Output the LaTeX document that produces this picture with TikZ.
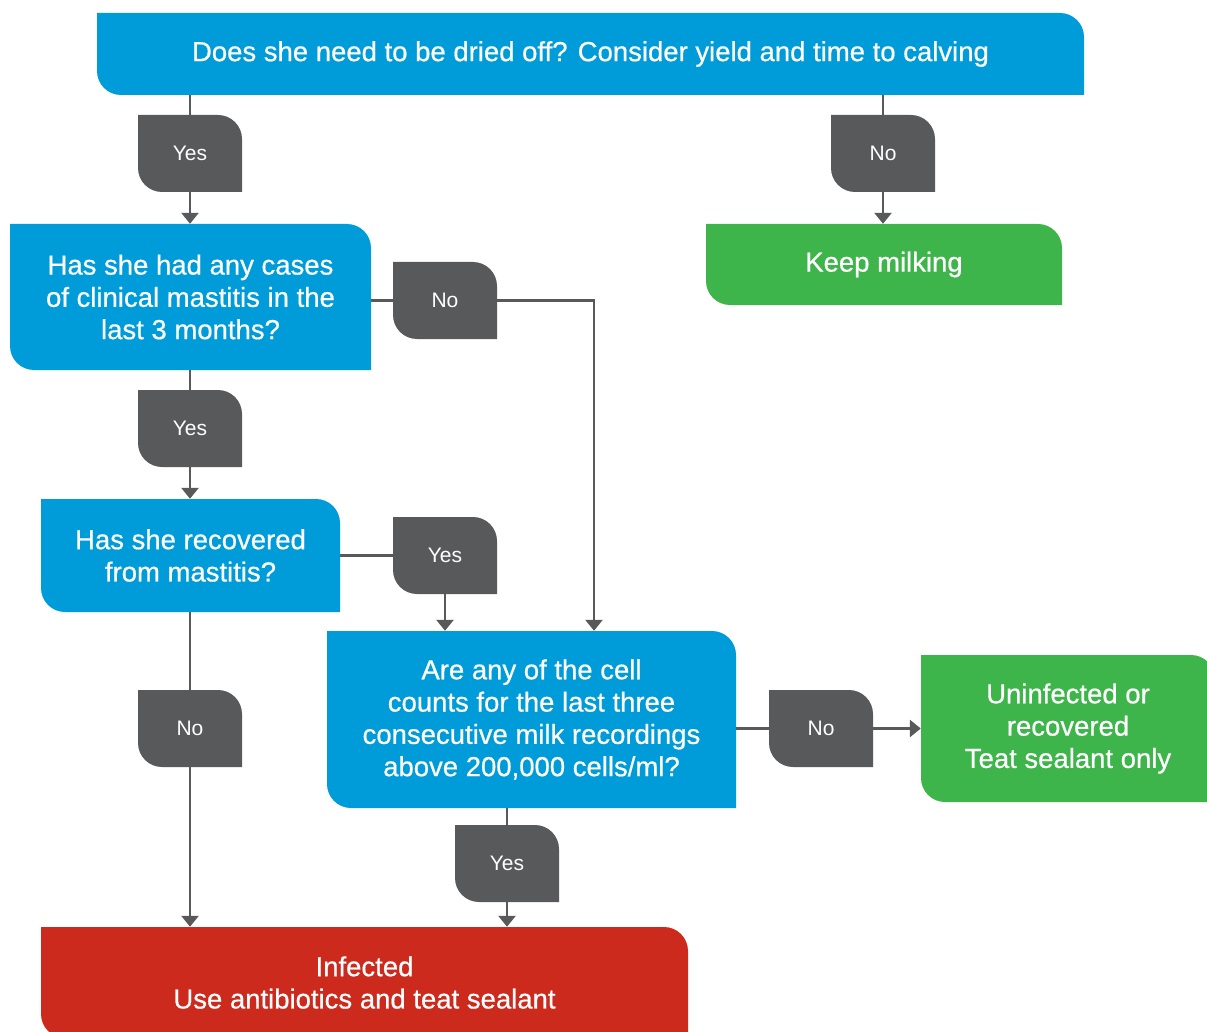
\documentclass[tikz,border=0pt]{standalone}
\usepackage{fontspec}
\setmainfont{Liberation Sans}
\newfontfamily\medfont{Liberation Sans}[FakeBold=0.6]
\usetikzlibrary{arrows.meta}
\definecolor{cblue}{HTML}{009BD9}
\definecolor{cgreen}{HTML}{3DB54A}
\definecolor{cred}{HTML}{CD2A1E}
\definecolor{cgrey}{HTML}{58595B}
\pgfdeclarelayer{bg}\pgfsetlayers{bg,main}
\tikzset{
 leaf/.style={draw=none, inner sep=0pt, align=center, text=white,
   font=\medfont\fontsize{27.5}{32.3}\selectfont,
   path picture={\fill[#1] (path picture bounding box.north west)
     -- ([xshift=-24pt]path picture bounding box.north east)
     arc[start angle=90,end angle=0,radius=24pt]
     -- (path picture bounding box.south east)
     -- ([xshift=24pt]path picture bounding box.south west)
     arc[start angle=270,end angle=180,radius=24pt] -- cycle;}},
 tag/.style={leaf=cgrey, minimum width=104pt, minimum height=77pt,
   font=\rmfamily\fontsize{21}{25}\selectfont},
 conn/.style={draw=cgrey, line width=2.7pt},
 arr/.style={conn, -{Triangle[width=17pt,length=11pt]}},
}
\begin{document}
\begin{tikzpicture}[x=1pt,y=1pt]
\useasboundingbox (0,0) rectangle (1207,-1032);
\clip (0,0) rectangle (1207,-1032);
\node[leaf=cblue, minimum width=987pt, minimum height=82pt] (top) at (590.5,-54)
  {Does she need to be dried off? Consider yield and time to calving};
\node[leaf=cgreen, minimum width=356pt, minimum height=81pt] (keep) at (884,-264.5)
  {Keep milking};
\node[leaf=cblue, minimum width=361pt, minimum height=146pt] (q2) at (190.5,-297)
  {Has she had any cases\\of clinical mastitis in the\\last 3 months?};
\node[leaf=cblue, minimum width=299pt, minimum height=113pt] (q3) at (190.5,-555.5)
  {Has she recovered\\from mastitis?};
\node[leaf=cblue, minimum width=409pt, minimum height=177pt] (q4) at (531.5,-719.5)
  {Are any of the cell\\counts for the last three\\consecutive milk recordings\\above 200,000 cells/ml?};
\node[leaf=cgreen, minimum width=294pt, minimum height=147pt] (unin) at (1068,-728.5)
  {Uninfected or\\recovered\\Teat sealant only};
\node[leaf=cred, minimum width=647pt, minimum height=111pt] (red) at (364.5,-982.5)
  {Infected\\Use antibiotics and teat sealant};
\node[tag] (yes1) at (190,-153.5) {Yes};
\node[tag] (no1) at (883,-153.5) {No};
\node[tag] (no2) at (445,-300.5) {No};
\node[tag] (yes2) at (190,-428.5) {Yes};
\node[tag] (yes3) at (445,-555.5) {Yes};
\node[tag] (no4) at (190,-728.5) {No};
\node[tag] (no5) at (821,-728.5) {No};
\node[tag] (yes5) at (507,-863.5) {Yes};
\begin{pgfonlayer}{bg}
\draw[arr] (yes1 |- top.south) -- (yes1 |- q2.north);
\draw[arr] (no1 |- top.south) -- (no1 |- keep.north);
\draw[arr] (q2.east |- no2) -| ([xshift=62.5pt]q4.north);
\draw[arr] (yes2 |- q2.south) -- (yes2 |- q3.north);
\draw[arr] (q3.east |- yes3) -- (yes3.center) -- (yes3 |- q4.north);
\draw[arr] (no4 |- q3.south) -- (no4 |- red.north);
\draw[arr] (q4.east |- no5) -- (unin.west |- no5);
\draw[arr] (yes5 |- q4.south) -- (yes5 |- red.north);
\end{pgfonlayer}
\end{tikzpicture}
\end{document}
